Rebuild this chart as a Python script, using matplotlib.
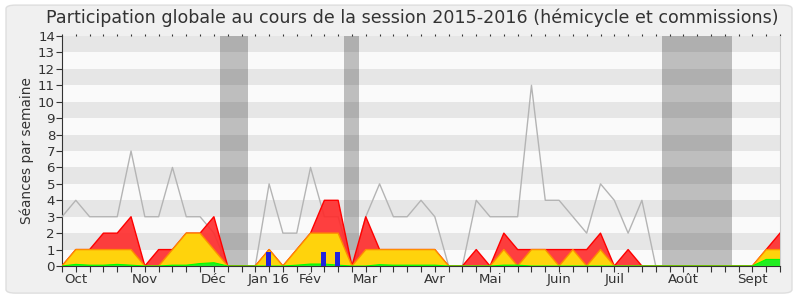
import numpy as np
import matplotlib
matplotlib.use("Agg")
import matplotlib.pyplot as plt
from matplotlib.patches import FancyBboxPatch

# weekly values, session 2015-2016 (week 0 = start of October)
weeks = np.arange(53)
seances = [3, 4, 3, 3, 3, 7, 3, 3, 6, 3, 3, 2, 0, 0, 0, 5, 2, 2, 6, 3, 3, 0, 3, 5, 3, 3, 4,
           3, 0, 0, 4, 3, 3, 3, 11, 4, 4, 3, 2, 5, 4, 2, 4, 0, 0, 0, 0, 0, 0, 0, 0, 0, 0]
presence_total = [0, 1, 1, 2, 2, 3, 0, 1, 1, 2, 2, 3, 0, 0, 0, 1, 0, 1, 2, 4, 4, 0, 3, 1, 1, 1, 1,
                  1, 0, 0, 1, 0, 2, 1, 1, 1, 1, 1, 1, 2, 0, 1, 0, 0, 0, 0, 0, 0, 0, 0, 0, 1, 2]
presence_hemi = [0, 1, 1, 1, 1, 1, 0, 0, 1, 2, 2, 1, 0, 0, 0, 1, 0, 1, 2, 2, 2, 0, 1, 1, 1, 1, 1,
                 1, 0, 0, 0, 0, 1, 0, 1, 1, 0, 1, 0, 1, 0, 0, 0, 0, 0, 0, 0, 0, 0, 0, 0, 1, 1]
interventions = [0, 0.1, 0.05, 0.05, 0.1, 0.05, 0, 0, 0.05, 0.05, 0.15, 0.2, 0, 0, 0, 0, 0, 0.05,
                 0.12, 0.12, 0.05, 0, 0, 0.08, 0.05, 0.05, 0.05, 0.05, 0, 0, 0, 0, 0.05, 0.05,
                 0, 0, 0, 0, 0, 0, 0, 0, 0, 0, 0, 0, 0, 0, 0, 0, 0, 0.4, 0.4]
question_weeks = [14.95, 18.93, 19.95]
question_vals = [0.85, 0.85, 0.85]
vacances = [(11.45, 13.45), (20.42, 21.5), (43.45, 48.5)]
mois_pos = [1, 6, 11, 15, 18, 22, 27, 31, 36, 40, 45, 50]
mois_labels = ["Oct", "Nov", "Déc", "Jan 16", "Fév", "Mar", "Avr", "Mai", "Juin", "Juil", "Août", "Sept"]

txt = "#333333"
fig = plt.figure(figsize=(8, 3), dpi=100, facecolor="white")
fig.patches.append(FancyBboxPatch((0.0075, 0.023), 0.9825, 0.96, boxstyle="round,pad=0,rounding_size=0.012",
                                  transform=fig.transFigure, facecolor="#f0f0f0", edgecolor="#dedede",
                                  lw=1, zorder=-5))
ax = fig.add_axes([0.0775, 0.1133, 0.8975, 0.7667])
ax.set_facecolor("#fafafa")

for a, b in vacances:
    ax.axvspan(a, b, color="#bebebe", lw=0, zorder=1)
for k in range(1, 14, 2):
    ax.axhspan(k, k + 1, color="black", alpha=0.08, lw=0, zorder=2)

ax.plot(weeks, seances, color="#b4b4b4", lw=1, zorder=3)
ax.fill_between(weeks, 0, presence_total, facecolor="#ff2a2a", alpha=0.9, lw=0, zorder=4)
ax.plot(weeks, presence_total, color="#ff0000", lw=1, zorder=4)
ax.fill_between(weeks, 0, presence_hemi, facecolor="#ffd30c", lw=0, zorder=5)
ax.plot(weeks, presence_hemi, color="#ff8c00", lw=1, zorder=5)
ax.fill_between(weeks, 0, interventions, facecolor="#22ee22", lw=0, zorder=6)
ax.plot(weeks, interventions, color="#00ff00", lw=0.8, zorder=6)
ax.bar(question_weeks, question_vals, width=0.36, color="#2222dd", zorder=7)

ax.set_xlim(0, 52)
ax.set_ylim(0, 14)
ax.set_yticks(range(15))
ax.set_xticks(mois_pos)
ax.set_xticklabels(mois_labels)
ax.set_xticks(weeks, minor=True)
ax.tick_params(axis="both", which="both", colors=txt, labelsize=9.6, length=4, width=0.8, pad=1)
ax.tick_params(axis="x", which="both", top=True, labeltop=False)
for t in ax.xaxis.get_ticklines(minor=True)[1::2] + ax.xaxis.get_ticklines()[1::2]:
    t.set_markersize(1.5)
    t.set_color("#555555")

ax.spines["top"].set_visible(False)
ax.spines["right"].set_color("#cccccc")
ax.spines["left"].set_color(txt)
ax.spines["bottom"].set_color(txt)

ax.set_ylabel("Séances par semaine", fontsize=9.8, color=txt, labelpad=3)
fig.text(0.515, 0.94, "Participation globale au cours de la session 2015-2016 (hémicycle et commissions)",
         ha="center", va="center", fontsize=12.6, color=txt)

fig.savefig("out.png", dpi=100, facecolor=fig.get_facecolor())
